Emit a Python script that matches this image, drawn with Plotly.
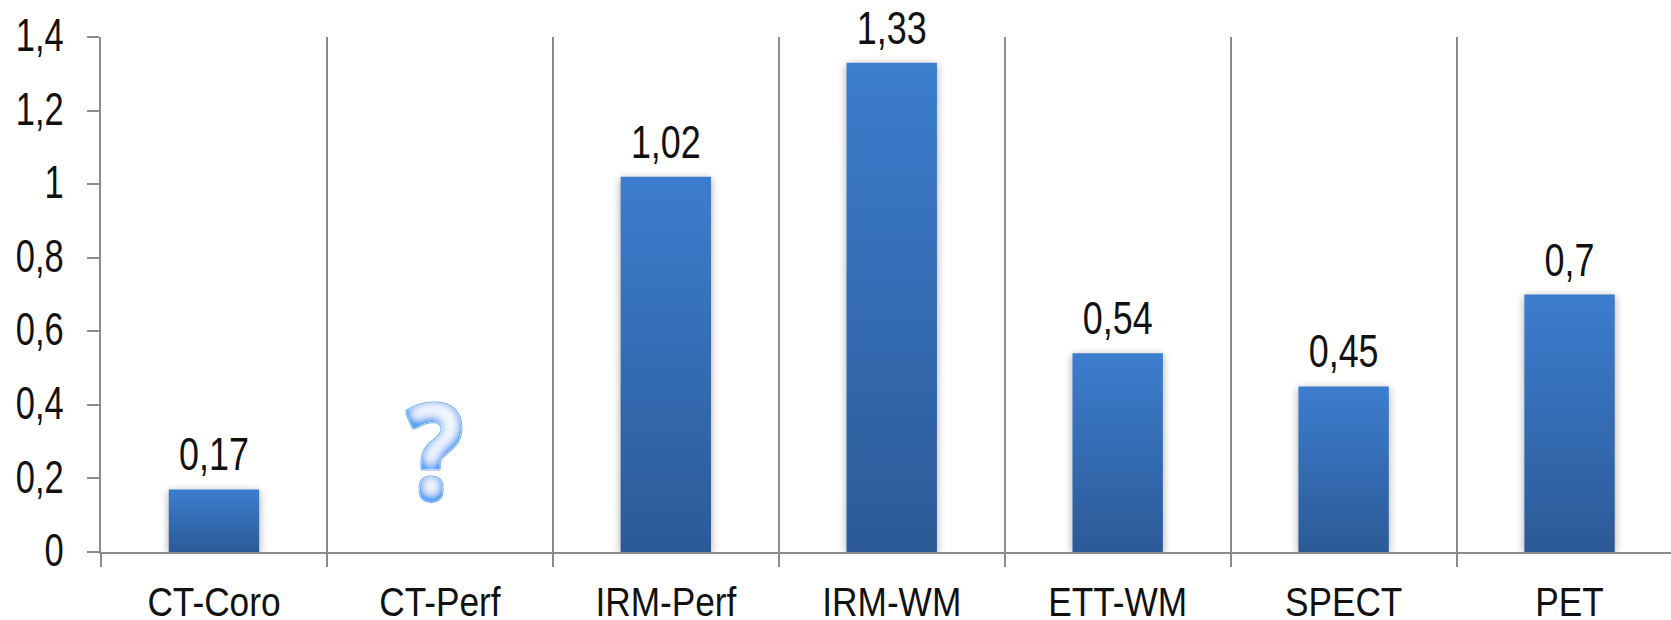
import plotly.graph_objects as go

categories = ["CT-Coro", "CT-Perf", "IRM-Perf", "IRM-WM", "ETT-WM", "SPECT", "PET"]
values = [0.17, None, 1.02, 1.33, 0.54, 0.45, 0.7]
value_labels = ["0,17", "", "1,02", "1,33", "0,54", "0,45", "0,7"]
y_ticks = [0, 0.2, 0.4, 0.6, 0.8, 1, 1.2, 1.4]
y_tick_labels = ["0", "0,2", "0,4", "0,6", "0,8", "1", "1,2", "1,4"]
unknown_category = "CT-Perf"
unknown_mark = "?"

GREY = "#8c8c8c"
FONT = "Liberation Sans, Arial"
TEXT = "#111111"

positions = list(range(len(categories)))

fig = go.Figure(
    go.Bar(
        x=positions,
        y=values,
        width=0.4,
        marker=dict(color="#3a75c0", line=dict(width=0)),
        text=value_labels,
        textposition="outside",
        textfont=dict(family=FONT, size=46, color=TEXT),
        cliponaxis=False,
        hoverinfo="skip",
    )
)

fig.add_annotation(
    x=categories.index(unknown_category),
    y=0.285,
    xshift=-5,
    text=unknown_mark,
    showarrow=False,
    font=dict(family="Open Sans", size=130, color="#ffffff", weight="bold"),
)

fig.update_layout(
    width=1671,
    height=620,
    margin=dict(l=101, r=0, t=37, b=68, autoexpand=False),
    paper_bgcolor="white",
    plot_bgcolor="white",
    showlegend=False,
    xaxis=dict(
        range=[-0.5, 6.449],
        tickmode="array",
        tickvals=positions,
        ticktext=categories,
        ticks="",
        tickfont=dict(family=FONT, size=41, color=TEXT),
        ticklabelstandoff=13,
        automargin=False,
        showgrid=False,
        zeroline=False,
        showline=True,
        linecolor=GREY,
        linewidth=2,
        minor=dict(
            tick0=-0.5,
            dtick=1,
            showgrid=True,
            gridcolor=GREY,
            gridwidth=2,
            ticks="outside",
            ticklen=13,
            tickwidth=2,
            tickcolor=GREY,
        ),
    ),
    yaxis=dict(
        range=[0, 1.4],
        tickmode="array",
        tickvals=y_ticks,
        ticktext=y_tick_labels,
        ticks="outside",
        ticklen=12,
        tickwidth=2,
        tickcolor=GREY,
        tickfont=dict(family=FONT, size=46, color=TEXT),
        ticklabelstandoff=14,
        automargin=False,
        showgrid=False,
        zeroline=False,
        showline=True,
        linecolor=GREY,
        linewidth=2,
    ),
)

# Bars get a vertical gradient and soft shadow, the "?" a glossy inner glow,
# and all labels are condensed horizontally to a narrow letterform.
post_script = """
const gd = document.getElementById('{plot_id}');
const svg = gd.querySelector('svg.main-svg');
const NS = 'http://www.w3.org/2000/svg';
const defs = document.createElementNS(NS, 'defs');
defs.innerHTML = `
  <linearGradient id="barGrad" x1="0" y1="0" x2="0" y2="1">
    <stop offset="0" stop-color="#3c7dce"/>
    <stop offset="1" stop-color="#2c5a97"/>
  </linearGradient>
  <filter id="qGlow" x="-25%" y="-25%" width="150%" height="150%">
    <feMorphology in="SourceAlpha" operator="dilate" radius="1" result="fat"/>
    <feFlood flood-color="#7db6f2"/>
    <feComposite in2="fat" operator="in" result="outline"/>
    <feGaussianBlur in="SourceAlpha" stdDeviation="6"/>
    <feOffset dy="-3" result="blur"/>
    <feComposite in="SourceAlpha" in2="blur" operator="arithmetic" k1="0" k2="1.6" k3="-1.6" k4="0" result="edge"/>
    <feFlood flood-color="#5aa2f2"/>
    <feComposite in2="edge" operator="in" result="glow"/>
    <feMerge><feMergeNode in="outline"/><feMergeNode in="SourceGraphic"/><feMergeNode in="glow"/></feMerge>
  </filter>`;
svg.insertBefore(defs, svg.firstChild);
gd.querySelectorAll('.barlayer .point path').forEach(p => {
  p.style.fill = 'url(#barGrad)';
  p.style.filter = 'drop-shadow(0 2px 4px rgba(0,0,0,0.35))';
});
function condense(el, sx, anchor, dy) {
  const b = el.getBBox();
  const ax = anchor === 'right' ? b.x + b.width : b.x + b.width / 2;
  const old = el.getAttribute('transform') || '';
  el.setAttribute('transform', `translate(0,${dy}) ${old} translate(${ax},0) scale(${sx},1) translate(${-ax},0)`);
}
gd.querySelectorAll('.annotation-text').forEach(t => {
  t.style.fill = '#f8fbff';
  t.style.stroke = '#f8fbff';
  t.style.strokeWidth = '4px';
  t.style.strokeLinejoin = 'round';
  t.setAttribute('filter', 'url(#qGlow)');
  condense(t, 0.88, 'middle', 0);
});
gd.querySelectorAll('.ytick text').forEach(t => condense(t, 0.75, 'right', -2));
gd.querySelectorAll('.xtick text').forEach(t => condense(t, 0.86, 'middle', 0));
gd.querySelectorAll('.barlayer text.bartext').forEach(t => condense(t, 0.78, 'middle', -6));
"""

fig.write_html("out.html", post_script=post_script, config={"displayModeBar": False})
